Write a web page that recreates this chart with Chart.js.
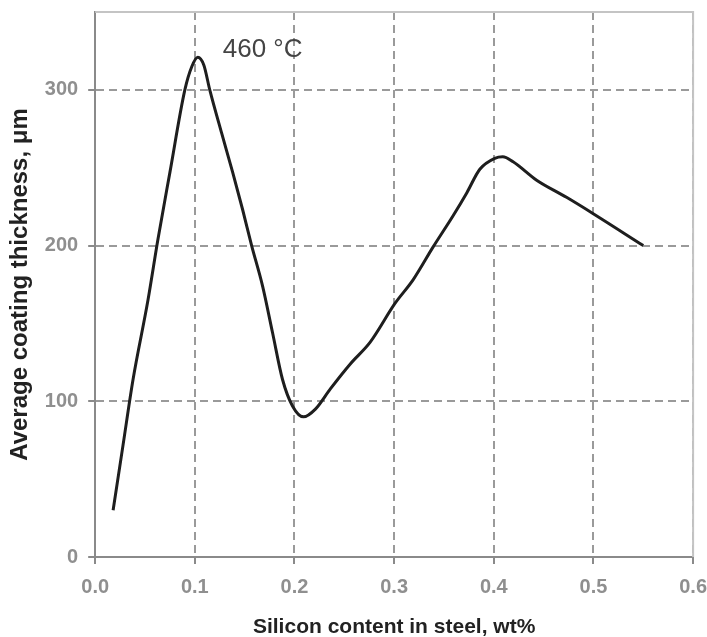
<!DOCTYPE html>
<html>
<head>
<meta charset="utf-8">
<script src="https://cdn.jsdelivr.net/npm/chart.js@4.4.0/dist/chart.umd.min.js"></script>
<style>
  html, body { margin: 0; padding: 0; background: #fff; overflow: hidden; width: 707px; height: 637px; }
  #wrap { position: absolute; left: 0; top: -10px; width: 718px; height: 648px; }
</style>
</head>
<body>
<div id="wrap"><canvas id="lineChart"></canvas></div>
<script>
// silicon content, wt%
let siContent = [0.018, 0.028, 0.038, 0.053, 0.063, 0.075, 0.090, 0.097, 0.103, 0.109, 0.115, 0.127, 0.138, 0.148, 0.157, 0.168, 0.178, 0.188, 0.198, 0.209, 0.221, 0.236, 0.256, 0.276, 0.301, 0.319, 0.339, 0.359, 0.373, 0.386, 0.401, 0.409, 0.419, 0.443, 0.473, 0.501, 0.550];
// average coating thickness, um
let thickness = [30, 72, 114, 165, 204, 247, 300, 315, 321, 316, 300, 272, 247, 223, 200, 174, 144, 114, 97, 90, 95, 108, 124, 138, 163, 178, 199, 219, 234, 249, 256, 257, 254, 242, 231, 220, 200];

let xTicks = [0, 0.1, 0.2, 0.3, 0.4, 0.5, 0.6];
let yTicks = [0, 100, 200, 300];

let labelText = '460 °C';
let labelPos = { x: 0.128, y: 326 };

let points = siContent.map(function (x, i) { return { x: x, y: thickness[i] }; });

let fontName = '"Liberation Sans", Arial, sans-serif';

// top / right frame and the temperature label
let framePlugin = {
	id: 'frame',
	afterDraw: function (chart) {
		let ctx = chart.ctx;
		let a = chart.chartArea;
		ctx.save();
		ctx.strokeStyle = '#c4c4c4';
		ctx.lineWidth = 2;
		ctx.beginPath();
		ctx.moveTo(a.left, a.top);
		ctx.lineTo(a.right, a.top);
		ctx.lineTo(a.right, a.bottom);
		ctx.stroke();

		ctx.fillStyle = '#444';
		ctx.font = '26px ' + fontName;
		ctx.textBaseline = 'middle';
		ctx.textAlign = 'left';
		ctx.fillText(labelText, chart.scales.x.getPixelForValue(labelPos.x), chart.scales.y.getPixelForValue(labelPos.y));
		ctx.restore();
	}
};

let gridOpts = {
	color: '#9a9a9a',
	lineWidth: 2,
	tickLength: 7,
	tickColor: '#8a8a8a',
	tickBorderDash: []
};

let options = {
	responsive: true,
	maintainAspectRatio: false,
	animation: false,
	layout: {
		padding: { left: 0, top: 0, right: 0, bottom: 0 }
	},
	plugins: {
		legend: { display: false },
		tooltip: { enabled: false }
	},
	scales: {
		x: {
			type: 'linear',
			min: 0,
			max: 0.6,
			afterBuildTicks: function (scale) {
				scale.ticks = xTicks.map(function (v) { return { value: v }; });
			},
			ticks: {
				color: '#8f8f8f',
				font: { family: fontName, size: 20, weight: 'bold' },
				padding: 11,
				maxRotation: 0,
				callback: function (v) { return v.toFixed(1); }
			},
			grid: gridOpts,
			border: { display: true, color: '#8a8a8a', width: 2, dash: [8, 5] },
			title: {
				display: true,
				text: 'Silicon content in steel, wt%',
				color: '#222',
				font: { family: fontName, size: 21, weight: 'bold', lineHeight: 1 },
				padding: { top: 7, bottom: 0 }
			}
		},
		y: {
			type: 'linear',
			min: 0,
			max: 350,
			afterBuildTicks: function (scale) {
				scale.ticks = yTicks.map(function (v) { return { value: v }; });
			},
			ticks: {
				color: '#8f8f8f',
				font: { family: fontName, size: 20, weight: 'bold' },
				padding: 10
			},
			grid: gridOpts,
			border: { display: true, color: '#8a8a8a', width: 2, dash: [8, 5] },
			title: {
				display: true,
				text: 'Average coating thickness, μm',
				color: '#222',
				font: { family: fontName, size: 24, weight: 'bold' },
				padding: { top: 6, bottom: 0 }
			}
		}
	}
};

new Chart('lineChart', {
	type: 'line',
	data: {
		datasets: [{
			data: points,
			borderColor: '#1e1e1e',
			borderWidth: 3,
			pointRadius: 0,
			fill: false,
			cubicInterpolationMode: 'monotone'
		}]
	},
	options: options,
	plugins: [framePlugin]
});
</script>
</body>
</html>
